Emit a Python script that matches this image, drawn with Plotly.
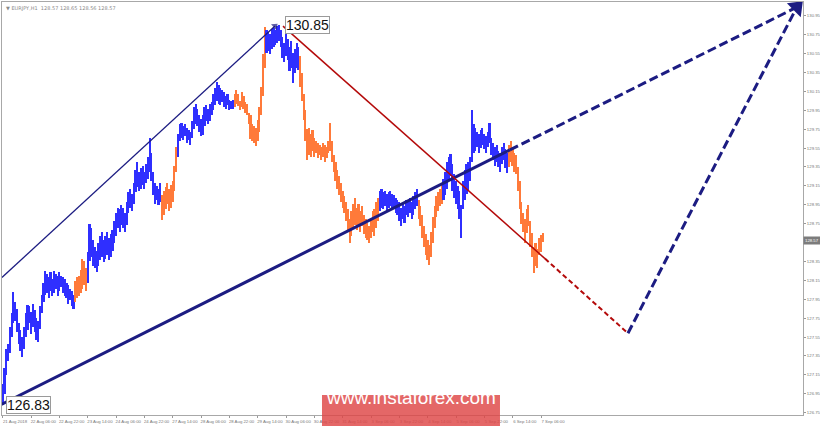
import plotly.graph_objects as go

symbol = "EURJPY,H1"
last_bar = [128.57, 128.65, 128.56, 128.57]

# hourly bar lows / highs, bar 0 = 21 Aug 2018 14:00
lows = [
    126.83, 126.95, 127.15, 127.30, 127.38, 127.55, 127.70, 127.72, 127.60, 127.48,
    127.40, 127.34, 127.42, 127.55, 127.62, 127.70, 127.58, 127.66, 127.60, 127.52,
    127.50, 127.64, 127.80, 127.92, 128.00, 128.02, 127.96, 128.04, 127.98, 128.02,
    128.06, 127.98, 128.04, 128.08, 128.02, 127.98, 127.96, 127.90, 127.94, 127.88,
    127.85, 127.92, 127.96, 127.98, 128.02, 128.06, 128.10, 128.04, 128.12, 128.35,
    128.40, 128.30, 128.28, 128.24, 128.30, 128.36, 128.40, 128.34, 128.38, 128.42,
    128.36, 128.40, 128.46, 128.55, 128.62, 128.70, 128.66, 128.74, 128.70, 128.66,
    128.74, 128.86, 128.92, 128.88, 128.96, 129.08, 129.14, 129.10, 129.12, 129.16,
    129.12, 129.18, 129.22, 129.30, 129.20, 129.05, 128.96, 129.00, 128.95, 128.98,
    128.79, 128.84, 128.90, 128.96, 128.88, 128.92, 128.98, 129.10, 129.30, 129.45,
    129.62, 129.66, 129.64, 129.68, 129.60, 129.63, 129.58, 129.66, 129.75, 129.80,
    129.78, 129.72, 129.68, 129.69, 129.78, 129.84, 129.80, 129.84, 129.90, 129.95,
    130.00, 130.05, 130.02, 130.00, 130.04, 129.98, 129.96, 130.00, 129.95, 129.96,
    129.96, 129.98, 130.02, 129.99, 129.95, 129.98, 129.96, 129.92, 129.90, 129.80,
    129.65, 129.62, 129.60, 129.57, 129.62, 129.72, 129.90, 130.10, 130.40, 130.56,
    130.58, 130.55, 130.60, 130.62, 130.64, 130.66, 130.68, 130.62, 130.50, 130.46,
    130.52, 130.48, 130.36, 130.40, 130.24, 130.34, 130.40, 130.38, 130.20, 130.05,
    129.85, 129.62, 129.42, 129.48, 129.45, 129.52, 129.46, 129.50, 129.44, 129.48,
    129.42, 129.46, 129.40, 129.44, 129.50, 129.52, 129.40, 129.30, 129.20, 129.12,
    129.05, 128.98, 128.92, 128.86, 128.78, 128.66, 128.54, 128.62, 128.70, 128.74,
    128.68, 128.74, 128.66, 128.72, 128.64, 128.60, 128.58, 128.55, 128.60, 128.66,
    128.62, 128.70, 128.78, 128.88, 128.92, 128.90, 128.94, 128.88, 128.92, 128.94,
    128.90, 128.92, 128.86, 128.84, 128.78, 128.72, 128.80, 128.76, 128.84, 128.82,
    128.86, 128.80, 128.84, 128.90, 128.94, 128.80, 128.72, 128.60, 128.50, 128.42,
    128.36, 128.31, 128.40, 128.55, 128.70, 128.82, 128.88, 128.94, 128.96, 129.00,
    129.05, 129.12, 129.20, 129.25, 129.10, 129.02, 128.96, 128.90, 128.80, 128.60,
    128.90, 129.00, 129.06, 129.10, 129.20, 129.40, 129.50, 129.52, 129.56, 129.50,
    129.55, 129.58, 129.54, 129.50, 129.56, 129.60, 129.48, 129.42, 129.36, 129.40,
    129.35, 129.30, 129.38, 129.42, 129.34, 129.29, 129.35, 129.40, 129.36, 129.30,
    129.28, 129.10, 128.90, 128.75, 128.66, 128.55, 128.65, 128.72, 128.50, 128.40,
    128.23, 128.30, 128.28, 128.42, 128.45, 128.56,
]
highs = [
    127.05, 127.22, 127.42, 127.48, 127.66, 127.80, 128.03, 127.92, 127.85, 127.70,
    127.62, 127.55, 127.66, 127.80, 127.89, 127.88, 127.82, 127.90, 127.84, 127.75,
    127.72, 127.88, 128.00, 128.12, 128.25, 128.22, 128.18, 128.24, 128.16, 128.25,
    128.22, 128.20, 128.24, 128.20, 128.18, 128.16, 128.12, 128.10, 128.06, 128.04,
    128.00, 128.14, 128.18, 128.20, 128.26, 128.38, 128.35, 128.28, 128.45, 128.75,
    128.70, 128.58, 128.50, 128.46, 128.55, 128.62, 128.66, 128.58, 128.62, 128.66,
    128.60, 128.64, 128.68, 128.78, 128.86, 128.92, 128.90, 128.95, 128.92, 128.86,
    128.98, 129.08, 129.12, 129.06, 129.18, 129.32, 129.40, 129.30, 129.34, 129.36,
    129.30, 129.38, 129.45, 129.66, 129.50, 129.30, 129.18, 129.15, 129.12, 129.18,
    129.05, 129.10, 129.14, 129.18, 129.12, 129.16, 129.20, 129.36, 129.56, 129.70,
    129.80, 129.82, 129.78, 129.80, 129.76, 129.74, 129.72, 129.84, 129.98, 130.02,
    129.96, 129.90, 129.86, 129.90, 129.98, 130.00, 129.96, 130.02, 130.04, 130.12,
    130.18, 130.25, 130.22, 130.18, 130.16, 130.14, 130.10, 130.12, 130.06, 130.05,
    130.06, 130.12, 130.16, 130.12, 130.05, 130.14, 130.10, 130.04, 130.02, 129.92,
    129.90, 129.80, 129.78, 129.76, 129.85, 129.98, 130.20, 130.55, 130.83, 130.80,
    130.78, 130.76, 130.80, 130.82, 130.80, 130.84, 130.85, 130.80, 130.72, 130.66,
    130.76, 130.70, 130.62, 130.68, 130.56, 130.60, 130.66, 130.62, 130.52, 130.34,
    130.12, 129.95, 129.75, 129.76, 129.70, 129.74, 129.66, 129.62, 129.60, 129.58,
    129.56, 129.60, 129.58, 129.56, 129.62, 129.81, 129.62, 129.48, 129.40, 129.32,
    129.25, 129.18, 129.10, 129.04, 128.98, 128.90, 128.80, 128.88, 128.96, 129.02,
    128.92, 128.96, 128.88, 128.94, 128.84, 128.80, 128.76, 128.72, 128.80, 128.88,
    128.90, 128.98, 129.02, 129.10, 129.12, 129.08, 129.10, 129.06, 129.08, 129.10,
    129.06, 129.05, 129.02, 129.00, 128.98, 128.92, 128.96, 128.94, 129.00, 128.98,
    129.02, 128.98, 129.04, 129.08, 129.12, 129.00, 128.94, 128.84, 128.72, 128.64,
    128.58, 128.52, 128.66, 128.82, 128.94, 129.04, 129.08, 129.12, 129.18, 129.22,
    129.30, 129.40, 129.46, 129.49, 129.38, 129.28, 129.20, 129.15, 129.10, 128.95,
    129.20, 129.32, 129.38, 129.40, 129.45, 129.95, 129.80, 129.76, 129.72, 129.70,
    129.74, 129.76, 129.70, 129.68, 129.72, 129.81, 129.66, 129.60, 129.56, 129.58,
    129.52, 129.50, 129.56, 129.60, 129.54, 129.50, 129.58, 129.62, 129.56, 129.50,
    129.48, 129.35, 129.20, 128.98, 128.86, 128.80, 128.90, 128.95, 128.78, 128.65,
    128.50, 128.55, 128.48, 128.60, 128.63, 128.65,
]

# first bar of each coloured wave
wave_start = [0, 41, 48, 90, 99, 131, 149, 168, 213, 235, 249, 286]
wave_dir = ["up", "down", "up", "down", "up", "down", "up", "down", "up", "down", "up", "down"]

time_labels = [
    "21 Aug 2018", "22 Aug 06:00", "22 Aug 22:00", "23 Aug 14:00", "24 Aug 06:00",
    "24 Aug 22:00", "27 Aug 14:00", "28 Aug 06:00", "28 Aug 22:00", "29 Aug 14:00",
    "30 Aug 06:00", "30 Aug 22:00", "31 Aug 14:00", "3 Sep 06:00", "3 Sep 22:00",
    "4 Sep 14:00", "5 Sep 06:00", "5 Sep 22:00", "6 Sep 14:00", "7 Sep 06:00",
]
bars_per_label = 16

# 128.55 sits under the bid box
price_ticks = [126.75, 126.95, 127.15, 127.35, 127.55, 127.75, 127.95, 128.15, 128.35,
               128.75, 128.95, 129.15, 129.35, 129.55, 129.75, 129.95, 130.15,
               130.35, 130.55, 130.75, 130.95]

# wave markup, (bar, price)
upper_line = [(-0.6, 128.18), (153.7, 130.84)]
lower_line = [(-1.7, 126.83), (286.4, 129.53)]
lower_ext = [(286.4, 129.53), (448.5, 131.04)]
drop_line = [(158.2, 130.84), (306.2, 128.38)]
drop_ext = [(306.2, 128.38), (353.1, 127.59)]
target_line = [(353.1, 127.59), (448.5, 131.04)]
high_label = (159.6, 130.85, "130.85")
low_label = (1.8, 126.83, "126.83")

BLUE = "#2f2fff"
ORANGE = "#ff7a3a"
NAVY = "#1c1c82"
RED = "#b40a0a"

colors = []
for i in range(len(lows)):
    k = max(j for j, s in enumerate(wave_start) if s <= i)
    colors.append(BLUE if wave_dir[k] == "up" else ORANGE)

fig = go.Figure()

fig.add_trace(go.Bar(
    x=list(range(len(lows))),
    base=lows,
    y=[h - l for h, l in zip(highs, lows)],
    marker_color=colors,
    marker_line_width=0,
    width=0.9,
    hoverinfo="skip",
))


def seg(points, color, width, dash="solid", arrow=0):
    xs = [p[0] for p in points]
    ys = [p[1] for p in points]
    fig.add_trace(go.Scatter(
        x=xs, y=ys, mode="lines+markers" if arrow else "lines",
        line=dict(color=color, width=width, dash=dash),
        marker=dict(symbol="triangle-up", size=[0, arrow], color=color,
                    angleref="previous", line_width=0),
        hoverinfo="skip",
    ))


seg(upper_line, NAVY, 1.3, arrow=7)
seg(lower_line, NAVY, 3)
seg(lower_ext, NAVY, 3, dash="9px,4px")
seg(drop_line, RED, 1.5)
seg(drop_ext, RED, 2, dash="5px,3px")
seg(target_line, NAVY, 3, dash="9px,4px")

# big arrowhead where both targets meet
fig.add_trace(go.Scatter(
    x=[target_line[1][0]], y=[target_line[1][1]], mode="markers",
    marker=dict(symbol="triangle-up", size=17, color=NAVY, angle=45),
    cliponaxis=False, hoverinfo="skip",
))

for bx, py, txt in [high_label, low_label]:
    fig.add_annotation(
        x=bx, y=py, text=txt, showarrow=False, xanchor="left", yanchor="middle",
        font=dict(family="Liberation Sans", size=14, color="#111"),
        bgcolor="white", bordercolor="#9a9a9a", borderwidth=1, borderpad=0,
    )

fig.add_annotation(
    xref="paper", yref="paper", x=0, y=1, xanchor="left", yanchor="top",
    xshift=2, yshift=-1, showarrow=False,
    text="▼ " + symbol + "  " + " ".join(f"{v:.2f}" for v in last_bar),
    font=dict(family="DejaVu Sans", size=5, color="#8a8a8a"),
)

fig.add_annotation(
    xref="paper", yref="y", x=1, y=last_bar[3], xanchor="left", yanchor="middle",
    xshift=0, showarrow=False, text=f"{last_bar[3]:.2f}",
    font=dict(family="Liberation Sans", size=4.3, color="white"),
    bgcolor="#7c7c7c", borderpad=1,
)

# instaforex watermark
fig.add_shape(type="rect", xref="paper", yref="paper",
              x0=0.3995, x1=0.6217, y0=-0.0266, y1=0.0484,
              fillcolor="rgba(222,70,70,0.82)", line_width=0, layer="above")
fig.add_annotation(
    xref="paper", yref="paper", x=0.5106, y=0.0109, showarrow=False,
    text="www.instaforex.com",
    font=dict(family="Liberation Sans", size=19, color="white"),
)

tick_font = dict(family="Liberation Sans", size=4.3, color="#777")

fig.update_layout(
    width=820, height=426,
    margin=dict(l=2, r=17, t=2, b=11, autoexpand=False),
    plot_bgcolor="white", paper_bgcolor="white",
    showlegend=False, bargap=0,
    xaxis=dict(
        range=[-0.56, 452.0],
        tickvals=[i * bars_per_label for i in range(len(time_labels))],
        ticktext=time_labels,
        tickangle=0, automargin=False,
        tickfont=tick_font,
        ticks="outside", ticklen=2, tickcolor="#999",
        ticklabelshift=12, ticklabelstandoff=0, ticklabeloverflow="allow",
        showgrid=False, zeroline=False,
        showline=True, linecolor="#a8a8a8", linewidth=1, mirror=True,
    ),
    yaxis=dict(
        side="right",
        range=[126.725, 131.095],
        tickvals=price_ticks,
        tickformat=".2f",
        automargin=False,
        tickfont=tick_font,
        ticks="outside", ticklen=2, tickcolor="#999",
        ticklabelstandoff=0, ticklabeloverflow="allow",
        showgrid=False, zeroline=False,
        showline=True, linecolor="#a8a8a8", linewidth=1, mirror=True,
    ),
)

# the page's default body margin would push the chart 8px off the window
fig.write_html("out.html", config={"displayModeBar": False},
               post_script="document.body.style.margin='0';")
